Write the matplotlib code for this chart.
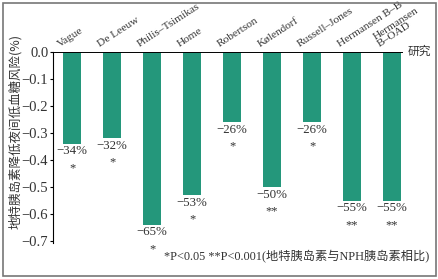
import matplotlib
matplotlib.use('Agg')
import matplotlib.pyplot as plt
import matplotlib.patches as mpatches
import numpy as np

studies = ['Vague', 'De Leeuw', 'Philis\u2013Tsimikas', 'Home', 'Robertson',
           'K\u00f8lendorf', 'Russell\u2013Jones', 'Hermansen B\u2013B', 'Hermansen\nB\u2013OAD']
values = [-0.34, -0.32, -0.64, -0.53, -0.26, -0.50, -0.26, -0.55, -0.55]
labels = ['\u221234%', '\u221232%', '\u221265%', '\u221253%', '\u221226%',
          '\u221250%', '\u221226%', '\u221255%', '\u221255%']
stars = ['*', '*', '*', '*', '*', '**', '*', '**', '**']
yticks = [0.0, -0.1, -0.2, -0.3, -0.4, -0.5, -0.6, -0.7]

serif = ['Liberation Serif', 'Noto Sans CJK SC']
cjk = ['Noto Sans CJK SC', 'Liberation Serif']
green = '#24977b'
txt = '#333333'

fig = plt.figure(figsize=(4.39, 2.79), dpi=100)
ax = fig.add_axes([0.121, 0.129, 0.797, 0.686])

x = np.arange(len(studies))
ax.bar(x, values, width=0.45, color=green, zorder=2)

ax.set_xlim(-0.475, 8.275)
ax.set_ylim(-0.707, 0)
for s in ['top', 'right', 'bottom']:
    ax.spines[s].set_visible(False)
ax.axhline(0, color='black', lw=1.4, zorder=3)
ax.spines['left'].set_linewidth(0.8)

ax.set_yticks(yticks)
ax.set_yticklabels([f'{t:.1f}'.replace('-', '\u2212') for t in yticks],
                   family=serif, fontsize=10.5, color=txt)
ax.tick_params(axis='y', length=2.5, width=0.8, pad=1)
ax.set_xticks([])

# study names, rotated along the top
for i, name in enumerate(studies):
    ax.text(i - 0.27, 0.01, name, rotation=33, rotation_mode='anchor',
            ha='left', va='bottom', family=serif, fontsize=8.2, color=txt,
            linespacing=0.95)

# percentage and significance below each bar
for i, v in enumerate(values):
    ax.text(i, v - 0.006, labels[i], ha='center', va='top',
            family=serif, fontsize=9.3, color=txt)
    ax.text(i, v - 0.068, stars[i], ha='center', va='top',
            family=serif, fontsize=9, color=txt)

ax.text(8.4, 0, '\u7814\u7a76', ha='left', va='center', family=cjk,
        fontsize=8.5, color=txt, clip_on=False)

fig.text(0.034, 0.53, '\u5730\u7279\u80f0\u5c9b\u7d20\u964d\u4f4e\u591c\u95f4\u4f4e\u8840\u7cd6\u98ce\u9669(%)',
         rotation=90, ha='center', va='center', family=cjk, fontsize=9, color=txt)

fig.text(0.978, 0.078, '*P<0.05 **P<0.001(\u5730\u7279\u80f0\u5c9b\u7d20\u4e0eNPH\u80f0\u5c9b\u7d20\u76f8\u6bd4)',
         ha='right', va='center', family=serif, fontsize=8.8, color=txt)

# outer frame
fig.patches.append(mpatches.Rectangle((0.006, 0.01), 0.988, 0.98, transform=fig.transFigure,
                                      fill=False, edgecolor='#777777', lw=1.2))

fig.savefig('out.png', dpi=100)
